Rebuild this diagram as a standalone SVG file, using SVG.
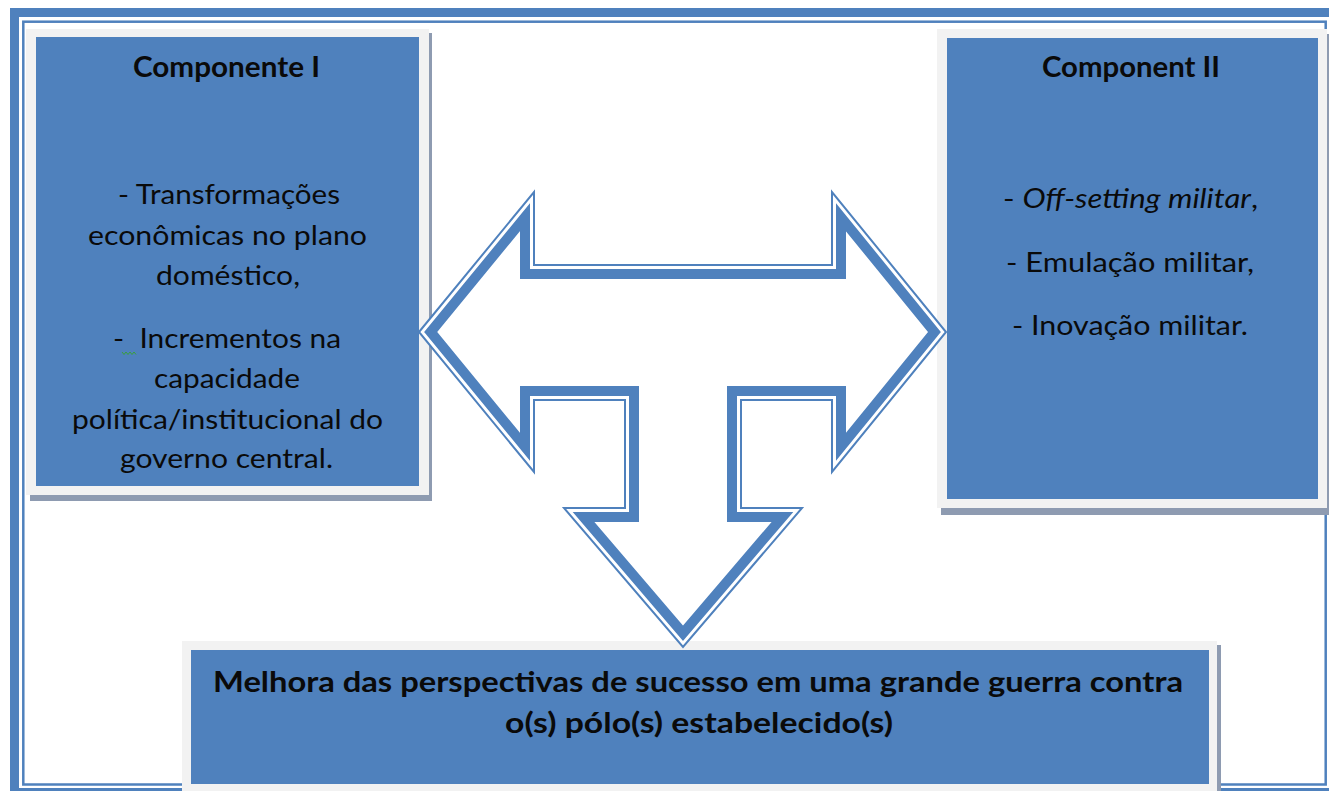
<svg xmlns="http://www.w3.org/2000/svg" xmlns:xlink="http://www.w3.org/1999/xlink" width="1329" height="791" viewBox="0 0 1329 791">
<style>
.t{font-family:Lato,"Open Sans","Liberation Sans",sans-serif;fill:#0a0a0a}
.b{font-weight:bold;font-size:28px}
.r{font-size:27px}
.i{font-style:italic}
.frame{fill:#f2f2f2}
.blue{fill:#4f81bd}
.shadow{fill:#8e9bb1}
</style>
<defs>
<path id="arrowPath" d="M419,332 L534,192 L534,265 L832,265 L832,192 L946,332 L832,472 L832,400 L741,400 L741,508 L802,508 L683,647 L564,508 L625,508 L625,400 L534,400 L534,472 Z"/>
<clipPath id="arrowClip"><use xlink:href="#arrowPath"/></clipPath>
</defs>
<rect width="1329" height="791" fill="#fff"/>
<g id="outer-frame">
<rect x="14.5" y="12.5" width="1320" height="780" fill="none" stroke="#4f81bd" stroke-width="9"/>
<rect x="23.3" y="21.7" width="1302.4" height="762.8" fill="none" stroke="#4f81bd" stroke-width="2.5"/>
</g>
<g id="node-componente-1">
<rect class="shadow" x="30" y="33" width="402" height="468"/>
<rect class="frame" x="26" y="29" width="403" height="466"/>
<rect class="blue" x="36" y="37" width="383" height="449"/>
<text class="t b" x="133" y="77" textLength="187" lengthAdjust="spacingAndGlyphs">Componente I</text>
<text class="t r" x="118" y="204" textLength="222" lengthAdjust="spacingAndGlyphs">- Transformações</text>
<text class="t r" x="88" y="245" textLength="279" lengthAdjust="spacingAndGlyphs">econômicas no plano</text>
<text class="t r" x="156" y="285" textLength="144" lengthAdjust="spacingAndGlyphs">doméstico,</text>
<text class="t r" x="113" y="348" textLength="228" lengthAdjust="spacingAndGlyphs" xml:space="preserve">-  Incrementos na</text>
<path d="M122,352 l2,2.5 l2,-2.5 l2,2.5 l2,-2.5 l2,2.5 l2,-2.5 l2,2.5" fill="none" stroke="#3aa03a" stroke-width="1"/>
<text class="t r" x="154" y="388" textLength="146" lengthAdjust="spacingAndGlyphs">capacidade</text>
<text class="t r" x="72" y="429" textLength="311" lengthAdjust="spacingAndGlyphs">política/institucional do</text>
<text class="t r" x="120" y="468" textLength="213" lengthAdjust="spacingAndGlyphs">governo central.</text>
</g>
<g id="node-component-2">
<rect class="shadow" x="941" y="34" width="392" height="481"/>
<rect class="frame" x="937" y="29" width="390" height="479"/>
<rect class="blue" x="947" y="38" width="371" height="461"/>
<text class="t b" x="1042" y="77" textLength="178" lengthAdjust="spacingAndGlyphs">Component II</text>
<text class="t r" x="1003" y="208" textLength="255" lengthAdjust="spacingAndGlyphs" xml:space="preserve">- <tspan class="i">Off-setting militar</tspan>,</text>
<text class="t r" x="1006" y="272" textLength="248" lengthAdjust="spacingAndGlyphs">- Emulação militar,</text>
<text class="t r" x="1012" y="335" textLength="236" lengthAdjust="spacingAndGlyphs">- Inovação militar.</text>
</g>
<g id="node-result">
<rect class="shadow" x="186" y="645" width="1035" height="150"/>
<rect class="frame" x="182" y="641" width="1035" height="152"/>
<rect class="blue" x="191" y="650" width="1018" height="134"/>
<text class="t b" x="213" y="692" textLength="970" lengthAdjust="spacingAndGlyphs">Melhora das perspectivas de sucesso em uma grande guerra contra</text>
<text class="t b" x="505" y="733" textLength="388" lengthAdjust="spacingAndGlyphs">o(s) pólo(s) estabelecido(s)</text>
</g>
<g id="connectors">
<g clip-path="url(#arrowClip)">
<use xlink:href="#arrowPath" fill="none" stroke="#4f81bd" stroke-width="28" stroke-linejoin="miter" stroke-miterlimit="10"/>
<use xlink:href="#arrowPath" fill="none" stroke="#fff" stroke-width="8" stroke-linejoin="miter" stroke-miterlimit="10"/>
</g>
<use xlink:href="#arrowPath" fill="none" stroke="#4f81bd" stroke-width="2" stroke-linejoin="miter" stroke-miterlimit="10"/>
</g>
</svg>
